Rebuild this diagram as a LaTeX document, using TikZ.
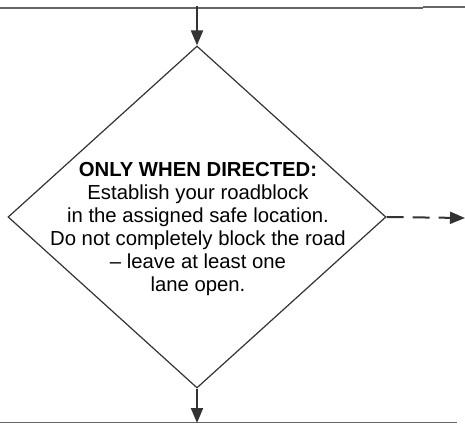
\documentclass[tikz,border=0pt]{standalone}
\usepackage{fontspec}
\setmainfont{Liberation Sans}
\usetikzlibrary{shapes.geometric,arrows.meta}

\begin{document}
\begin{tikzpicture}[x=1pt,y=-1pt,line cap=butt,line join=miter,
  flowarrow/.style={draw=black!80,line width=2pt,-{Triangle[length=15pt,width=12pt]}},
  rule/.style={draw=black!60,line width=1.3pt}]
\useasboundingbox (0,0) rectangle (465,424);
% page rules above and below
\coordinate (ruleTL) at (0,8);\coordinate (ruleTM) at (423,8);\coordinate (ruleTN) at (423,7);\coordinate (ruleTR) at (465,7);
\coordinate (ruleBL) at (0,422.5);\coordinate (ruleBR) at (457,422.5);
\draw[rule] (ruleTL)--(ruleTM);\draw[rule] (ruleTN)--(ruleTR);\draw[rule] (ruleBL)--(ruleBR);
% decision diamond
\node[diamond,draw=black!80,line width=1.2pt,inner sep=0pt,minimum width=378pt,minimum height=342pt] (roadblock) at (197,217) {};
\node[align=center,inner sep=0pt,font=\fontsize{20.3}{23}\selectfont] (directed) at (198,229) {\textbf{ONLY WHEN DIRECTED:}\\Establish your roadblock\\in the assigned safe location.\\Do not completely block the road\\– leave at least one\\lane open.};
% flow in and out
\coordinate (inTop) at (197,6);\coordinate (outBottom) at (197,423);\coordinate (outRight) at (465,218);
\draw[flowarrow] (inTop)--(roadblock.north);
\draw[flowarrow] (roadblock.south)--(outBottom);
\draw[flowarrow,dash pattern=on 17pt off 9pt] (roadblock.east)--(outRight);
\end{tikzpicture}
\end{document}
